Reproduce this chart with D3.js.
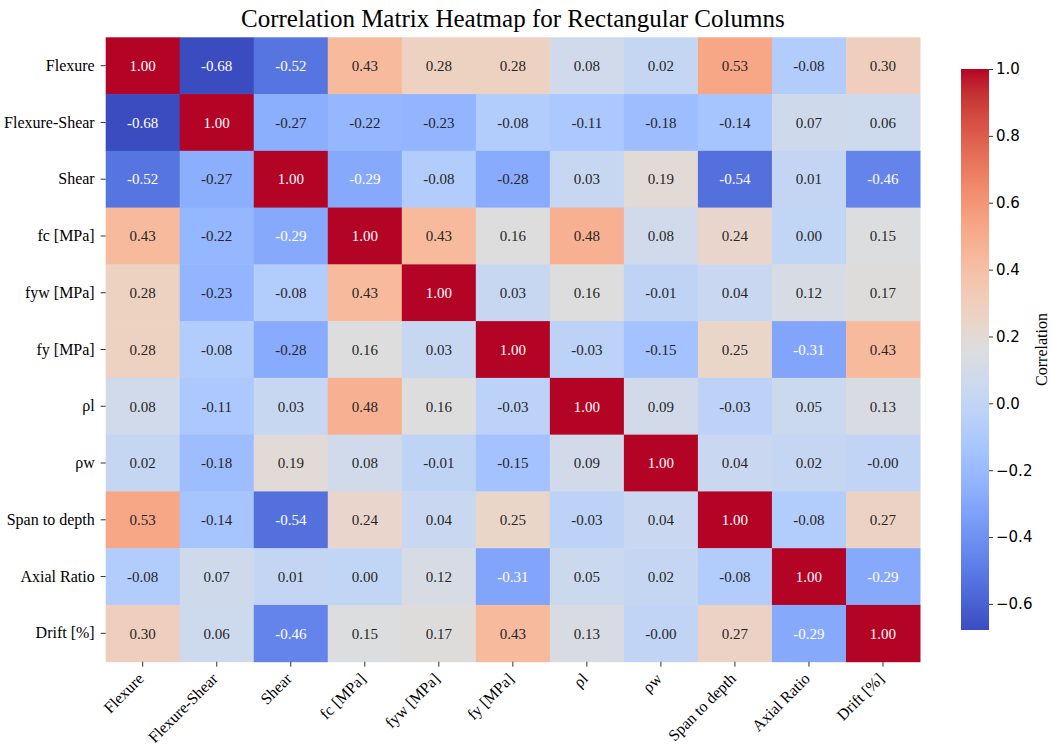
<!DOCTYPE html>
<html>
<head>
<meta charset="utf-8">
<script src="https://cdnjs.cloudflare.com/ajax/libs/d3/7.8.5/d3.min.js"></script>
<style>
  body { margin: 0; background: #fff; }
</style>
</head>
<body>
<div id="chart"></div>
<script>
// variable names, same order for rows and columns
var labels = ["Flexure", "Flexure-Shear", "Shear", "fc [MPa]", "fyw [MPa]", "fy [MPa]",
              "\u03c1l", "\u03c1w", "Span to depth", "Axial Ratio", "Drift [%]"];

// correlation rows
var rowFlexure      = [1.00, -0.68, -0.52, 0.43, 0.28, 0.28, 0.08, 0.02, 0.53, -0.08, 0.30];
var rowFlexureShear = [-0.68, 1.00, -0.27, -0.22, -0.23, -0.08, -0.11, -0.18, -0.14, 0.07, 0.06];
var rowShear        = [-0.52, -0.27, 1.00, -0.29, -0.08, -0.28, 0.03, 0.19, -0.54, 0.01, -0.46];
var rowFc           = [0.43, -0.22, -0.29, 1.00, 0.43, 0.16, 0.48, 0.08, 0.24, 0.00, 0.15];
var rowFyw          = [0.28, -0.23, -0.08, 0.43, 1.00, 0.03, 0.16, -0.01, 0.04, 0.12, 0.17];
var rowFy           = [0.28, -0.08, -0.28, 0.16, 0.03, 1.00, -0.03, -0.15, 0.25, -0.31, 0.43];
var rowRhoL         = [0.08, -0.11, 0.03, 0.48, 0.16, -0.03, 1.00, 0.09, -0.03, 0.05, 0.13];
var rowRhoW         = [0.02, -0.18, 0.19, 0.08, -0.01, -0.15, 0.09, 1.00, 0.04, 0.02, -0.004];
var rowSpan         = [0.53, -0.14, -0.54, 0.24, 0.04, 0.25, -0.03, 0.04, 1.00, -0.08, 0.27];
var rowAxial        = [-0.08, 0.07, 0.01, 0.00, 0.12, -0.31, 0.05, 0.02, -0.08, 1.00, -0.29];
var rowDrift        = [0.30, 0.06, -0.46, 0.15, 0.17, 0.43, 0.13, -0.004, 0.27, -0.29, 1.00];

var matrix = [rowFlexure, rowFlexureShear, rowShear, rowFc, rowFyw, rowFy,
              rowRhoL, rowRhoW, rowSpan, rowAxial, rowDrift];

var colorTicks = [-0.6, -0.4, -0.2, 0.0, 0.2, 0.4, 0.6, 0.8, 1.0];
var vmin = -0.678, vmax = 1.0;

// matplotlib "coolwarm" stops
var coolwarm = [
  [59,76,192],[68,90,204],[77,104,215],[87,117,225],[98,130,234],[108,142,241],
  [119,154,247],[130,165,251],[141,176,254],[152,185,255],[163,194,255],[174,201,253],
  [184,208,249],[194,213,244],[204,217,238],[213,219,230],[221,221,221],[229,216,209],
  [236,211,197],[241,204,184],[245,196,172],[247,187,159],[247,177,147],[247,166,134],
  [244,154,123],[241,141,111],[236,127,99],[229,112,89],[222,96,77],[213,80,67],
  [203,62,56],[192,40,47],[180,4,38]
];

var width = 1052, height = 748;
var hmLeft = 105.7, hmTop = 37.3, hmRight = 920, hmBottom = 661.7;

var svg = d3.select("#chart").append("svg")
    .attr("width", width)
    .attr("height", height);

var stopScale = d3.scaleLinear()
    .domain(d3.range(coolwarm.length).map(function (i) { return vmin + (vmax - vmin) * i / (coolwarm.length - 1); }))
    .range(coolwarm.map(function (c) { return d3.rgb(c[0], c[1], c[2]); }))
    .interpolate(d3.interpolateRgb)
    .clamp(true);

// black or white annotation, picked by the cell's luminance
function textColor(fill) {
    var c = d3.rgb(fill);
    var lin = [c.r, c.g, c.b].map(function (v) {
        v = v / 255;
        return v <= 0.03928 ? v / 12.92 : Math.pow((v + 0.055) / 1.055, 2.4);
    });
    var lum = 0.2126 * lin[0] + 0.7152 * lin[1] + 0.0722 * lin[2];
    return lum > 0.408 ? "#262626" : "#ffffff";
}

var x = d3.scaleBand().domain(labels).range([hmLeft, hmRight]);
var y = d3.scaleBand().domain(labels).range([hmTop, hmBottom]);

// title
svg.append("text")
    .attr("x", (hmLeft + hmRight) / 2)
    .attr("y", 27)
    .attr("text-anchor", "middle")
    .style("font-family", "Liberation Serif, serif")
    .style("font-size", "25px")
    .style("fill", "#000")
    .text("Correlation Matrix Heatmap for Rectangular Columns");

// cells
var cells = [];
matrix.forEach(function (row, i) {
    row.forEach(function (v, j) {
        cells.push({ r: labels[i], c: labels[j], v: v });
    });
});

var cell = svg.append("g").selectAll("g")
    .data(cells)
    .enter().append("g");

cell.append("rect")
    .attr("x", function (d) { return x(d.c); })
    .attr("y", function (d) { return y(d.r); })
    .attr("width", x.bandwidth() + 0.5)
    .attr("height", y.bandwidth() + 0.5)
    .style("fill", function (d) { return stopScale(d.v); });

cell.append("text")
    .attr("x", function (d) { return x(d.c) + x.bandwidth() / 2; })
    .attr("y", function (d) { return y(d.r) + y.bandwidth() / 2; })
    .attr("dy", ".35em")
    .attr("text-anchor", "middle")
    .style("font-family", "Liberation Serif, serif")
    .style("font-size", "15px")
    .style("fill", function (d) { return textColor(stopScale(d.v)); })
    .text(function (d) { return d.v.toFixed(2); });

// y axis
var yAxis = svg.append("g")
    .attr("transform", "translate(" + hmLeft + ",0)")
    .call(d3.axisLeft(y).tickSize(5).tickPadding(6));
yAxis.select(".domain").remove();
yAxis.selectAll("line").style("stroke", "#333");
yAxis.selectAll("text")
    .style("font-family", "Liberation Serif, serif")
    .style("font-size", "16px")
    .style("fill", "#000");

// x axis
var xAxis = svg.append("g")
    .attr("transform", "translate(0," + hmBottom + ")")
    .call(d3.axisBottom(x).tickSize(5));
xAxis.select(".domain").remove();
xAxis.selectAll("line").style("stroke", "#333");
xAxis.selectAll("text")
    .attr("y", 0)
    .attr("dy", 0)
    .attr("transform", "translate(2,18) rotate(-45)")
    .attr("text-anchor", "end")
    .style("font-family", "Liberation Serif, serif")
    .style("font-size", "16px")
    .style("fill", "#000");

// colorbar
var cbX = 961, cbW = 28, cbTop = 69, cbBottom = 630;
var cbScale = d3.scaleLinear().domain([vmin, vmax]).range([cbBottom, cbTop]);

var defs = svg.append("defs");
var grad = defs.append("linearGradient")
    .attr("id", "cbGrad")
    .attr("x1", "0").attr("y1", "1")
    .attr("x2", "0").attr("y2", "0");
grad.selectAll("stop")
    .data(d3.range(0, 1.0001, 0.02))
    .enter().append("stop")
    .attr("offset", function (t) { return t; })
    .attr("stop-color", function (t) { return stopScale(vmin + (vmax - vmin) * t); });

svg.append("rect")
    .attr("x", cbX)
    .attr("y", cbTop)
    .attr("width", cbW)
    .attr("height", cbBottom - cbTop)
    .style("fill", "url(#cbGrad)");

var cbAxis = svg.append("g")
    .attr("transform", "translate(" + (cbX + cbW) + ",0)")
    .call(d3.axisRight(cbScale).tickValues(colorTicks).tickFormat(d3.format(".1f")).tickSize(4).tickPadding(3));
cbAxis.select(".domain").remove();
cbAxis.selectAll("line").style("stroke", "#333");
cbAxis.selectAll("text")
    .style("font-family", "DejaVu Sans, sans-serif")
    .style("font-size", "15px")
    .style("fill", "#000");

svg.append("text")
    .attr("transform", "translate(1047," + (cbTop + cbBottom) / 2 + ") rotate(-90)")
    .attr("text-anchor", "middle")
    .style("font-family", "Liberation Serif, serif")
    .style("font-size", "16px")
    .style("fill", "#000")
    .text("Correlation");
</script>
</body>
</html>
